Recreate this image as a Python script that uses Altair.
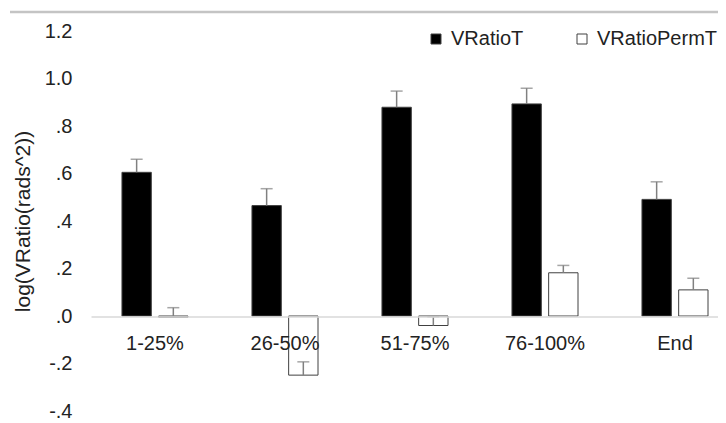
import altair as alt
import pandas as pd

categories = ["1-25%", "26-50%", "51-75%", "76-100%", "End"]
series = ["VRatioT", "VRatioPermT"]
vratio_t = [0.605, 0.465, 0.879, 0.893, 0.491]
vratio_t_err = [0.055, 0.071, 0.068, 0.066, 0.074]
vratio_perm = [-0.005, -0.249, -0.040, 0.182, 0.110]
vratio_perm_err = [0.040, 0.056, 0.037, 0.031, 0.049]
y_ticks = [-0.4, -0.2, 0.0, 0.2, 0.4, 0.6, 0.8, 1.0, 1.2]

rows = []
for c, v, e in zip(categories, vratio_t, vratio_t_err):
    rows.append({"category": c, "series": series[0], "value": v, "upper": v + e})
for c, v, e in zip(categories, vratio_perm, vratio_perm_err):
    rows.append({"category": c, "series": series[1], "value": v, "upper": v + e})
df = pd.DataFrame(rows)

FONT = "Liberation Sans"

x_enc = alt.X(
    "category:N",
    sort=categories,
    scale=alt.Scale(paddingInner=0.492, paddingOuter=0.1575, align=0.756),
    axis=alt.Axis(
        orient="bottom",
        offset=-94.5,
        title=None,
        labelAngle=0,
        ticks=False,
        domainColor="#d9d9d9",
        domainWidth=1.5,
        labelFontSize=20,
        labelColor="#222222",
        labelPadding=17,
        labelFont=FONT,
        zindex=1,
    ),
)
xoff_enc = alt.XOffset(
    "series:N", sort=series, scale=alt.Scale(paddingInner=0.2, paddingOuter=0)
)
y_scale = alt.Scale(domain=[-0.4, 1.2], nice=False, zero=False)

base = alt.Chart(df).encode(x=x_enc, xOffset=xoff_enc)

bars = base.mark_bar(stroke="#404040", strokeWidth=1).encode(
    y=alt.Y(
        "value:Q",
        scale=y_scale,
        axis=alt.Axis(
            values=y_ticks,
            labelExpr="replace(replace(format(datum.value, '.1f'), '\u2212', '-'), '0.', '.')",
            domain=False,
            ticks=False,
            grid=False,
            labelFontSize=20,
            labelColor="#222222",
            labelPadding=19,
            labelFont=FONT,
            title="log(VRatio(rads^2))",
            titleFontSize=21,
            titleFontWeight="normal",
            titleColor="#222222",
            titleFont=FONT,
            titleAngle=270,
            titleX=-58,
            titleY=190,
            titleAlign="center",
            titleBaseline="bottom",
        ),
    ),
    fill=alt.Fill(
        "series:N",
        sort=series,
        scale=alt.Scale(domain=series, range=["#000000", "#ffffff"]),
        legend=alt.Legend(
            orient="none",
            legendX=335,
            legendY=-2,
            direction="horizontal",
            title=None,
            labelFontSize=20,
            labelFont=FONT,
            labelColor="#222222",
            symbolType="square",
            symbolSize=100,
            symbolStrokeColor="#404040",
            symbolStrokeWidth=1,
            labelOffset=5,
            columnPadding=48,
        ),
    ),
)

err_lines = base.mark_rule(color="#808080", strokeWidth=1.5).encode(
    y=alt.Y("value:Q", scale=y_scale), y2="upper:Q"
)
err_caps = base.mark_tick(
    orient="horizontal", size=12, thickness=1.5, color="#808080"
).encode(y=alt.Y("upper:Q", scale=y_scale))

top_line = (
    alt.Chart(pd.DataFrame({"k": [0]}))
    .mark_rule(color="#c4c4c4", strokeWidth=2.5, clip=False)
    .encode(x=alt.value(-81), x2=alt.value(627), y=alt.value(-19))
)

chart = (
    alt.layer(bars, err_lines, err_caps, top_line)
    .properties(
        width=627,
        height=380,
        autosize=alt.AutoSizeParams(type="none"),
        padding={"left": 83, "top": 23, "right": 0, "bottom": 10},
    )
    .configure(font=FONT)
    .configure_view(stroke=None, strokeWidth=0)
)

chart.save("out.html", embed_options={"renderer": "svg", "actions": False})
